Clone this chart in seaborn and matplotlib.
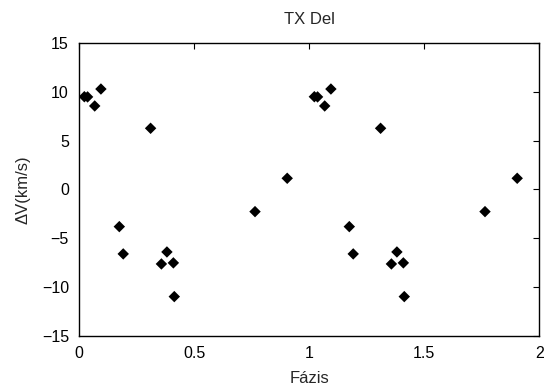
import numpy as np
import pandas as pd
import matplotlib
matplotlib.use("Agg")
import matplotlib.pyplot as plt
import seaborn as sns

# phase and radial velocity residuals (one cycle)
phase = [0.022, 0.036, 0.067, 0.094, 0.174, 0.191, 0.310, 0.357, 0.381, 0.409, 0.413, 0.764, 0.904]
dv = [9.52, 9.50, 8.57, 10.31, -3.81, -6.61, 6.28, -7.64, -6.41, -7.53, -10.99, -2.27, 1.15]

# the chart repeats the cycle once more (phase + 1)
df = pd.DataFrame({"phase": phase + [p + 1 for p in phase], "dv": dv + dv})

sns.set_style("white")
plt.rcParams["font.family"] = ["Liberation Sans", "DejaVu Sans"]

fig = plt.figure(figsize=(5.45, 3.87), dpi=100)
ax = fig.add_axes([0.1455, 0.1326, 0.844, 0.7555])

sns.scatterplot(data=df, x="phase", y="dv", marker="D", s=34, color="black",
                edgecolor="none", ax=ax)

ax.set_xlim(0, 2)
ax.set_ylim(-15, 15)
ax.set_xticks([0, 0.5, 1, 1.5, 2])
ax.set_xticklabels(["0", "0.5", "1", "1.5", "2"])
ax.set_yticks([-15, -10, -5, 0, 5, 10, 15])
ax.tick_params(direction="in", length=4, width=0.8, top=True, right=True,
               labelsize=11.5, colors="black", pad=7.5)
for sp in ax.spines.values():
    sp.set_color("black")
    sp.set_linewidth(1.0)

ax.set_title("TX Del", fontsize=12, pad=14)
ax.set_xlabel("Fázis", fontsize=12, labelpad=7)
ax.set_ylabel("ΔV(km/s)", fontsize=12, labelpad=8)

fig.savefig("out.png", dpi=100)
